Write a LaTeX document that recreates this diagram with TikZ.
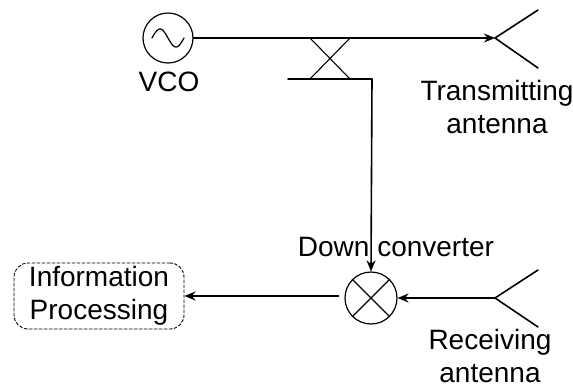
\documentclass[tikz,border=0pt]{standalone}
\usepackage{fontspec}
\setmainfont{Liberation Sans}
\usetikzlibrary{arrows.meta}
\begin{document}
\begin{tikzpicture}[line cap=round,line join=round,>={Stealth[length=11pt,width=9pt]},x=1pt,y=-1pt,line width=1.6pt,
		lbl/.style={font=\fontsize{28}{33}\selectfont,align=center,inner sep=0pt},
		ring/.style={draw,circle,inner sep=0pt,minimum size=#1,line width=1.2pt},
		proc/.style={draw,densely dashed,rounded corners=14pt,line width=.9pt,minimum width=170pt,minimum height=66pt,inner sep=0pt}]
		\useasboundingbox (0,0) rectangle (573,386);
		\node[ring=50pt] (vco) at (168,38) {};
		\node[ring=52pt] (mixer) at (371,298) {};
		\node[proc,lbl] (info) at (99,296) {Information\\Processing};
		\node[lbl] (vcolbl) at (169,82) {VCO};
		\node[lbl] (txlbl) at (497,107) {Transmitting\\antenna};
		\node[lbl] (rxlbl) at (490,356) {Receiving\\antenna};
		\node[lbl] (downlbl) at (396,247) {Down converter};
		\coordinate (tx) at (495,38);
		\coordinate (txa) at (538,10);
		\coordinate (txb) at (538,68);
		\coordinate (rx) at (495,298);
		\coordinate (rxa) at (538,270);
		\coordinate (rxb) at (538,327);
		\coordinate (cpa) at (310,38);
		\coordinate (cpb) at (350,38);
		\coordinate (cpc) at (310,79);
		\coordinate (cpd) at (350,79);
		\coordinate (cpl) at (288,79);
		\coordinate (cpr) at (372,79);
		\draw[->] (vco.east)--(tx);
		\draw (txa)--(tx)--(txb);
		\draw (rxa)--(rx)--(rxb);
		\draw[->] (rx)--(mixer.east);
		\draw[line width=1.1pt] (cpa)--(cpd) (cpb)--(cpc);
		\draw (cpl)--(cpr);
		\draw[->] (cpr)--(mixer.north);
		\draw[->,shorten <=6pt] (mixer.west|-info.east)--(info.east);
		\draw[line width=1.1pt] (mixer.north west)--(mixer.south east) (mixer.north east)--(mixer.south west);
		\draw[line width=1.2pt,smooth,samples=60,domain=-16:16,shift={(vco.center)}] plot(\x,{9*sin(11.25*\x)});
\end{tikzpicture}
\end{document}
